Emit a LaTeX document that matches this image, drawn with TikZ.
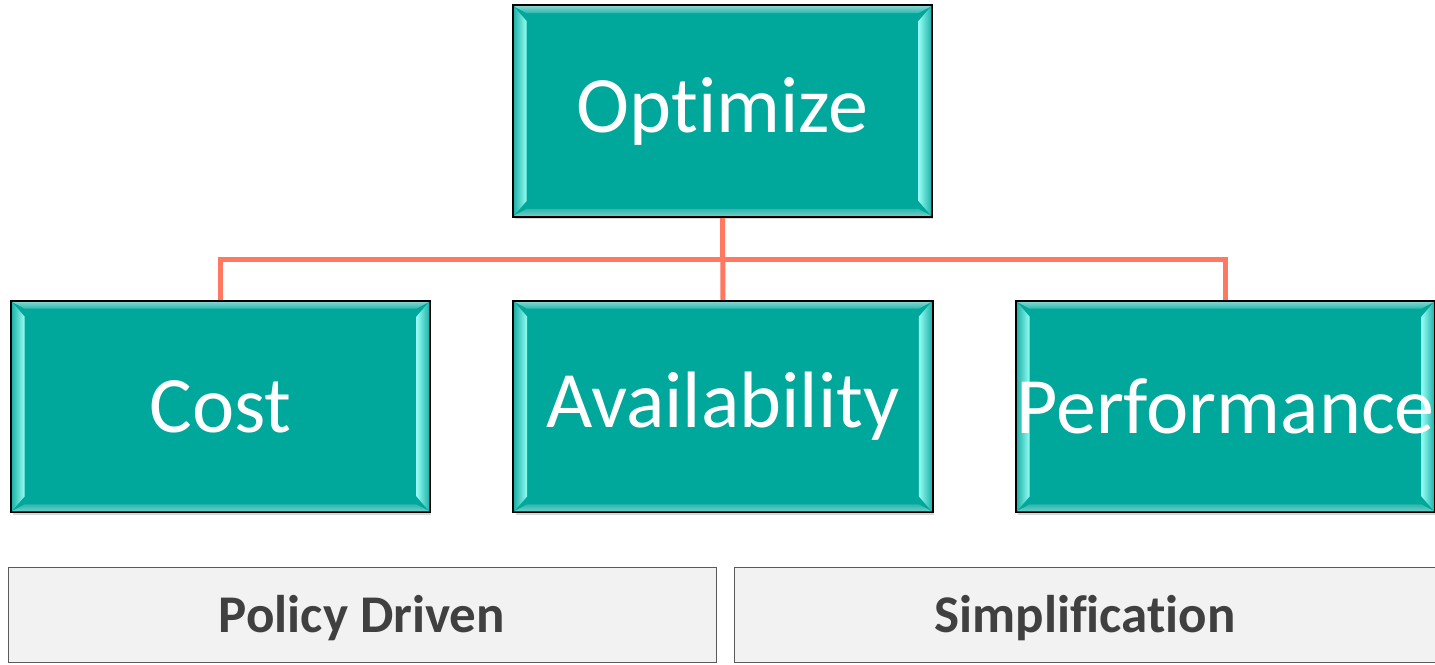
\documentclass[tikz,border=0pt]{standalone}
\usepackage{fontspec}
\setmainfont{Carlito}[Ligatures={NoCommon}]
\usetikzlibrary{calc,shadows}
\definecolor{tealfill}{RGB}{0,167,155}
\definecolor{tealband}{RGB}{45,184,174}
\definecolor{tealside}{RGB}{30,178,168}
\definecolor{bevelhi}{RGB}{150,255,245}
\definecolor{coral}{RGB}{255,120,95}
\definecolor{palegray}{RGB}{242,242,242}
\definecolor{boxgray}{RGB}{90,90,90}
\definecolor{txtgray}{RGB}{64,64,64}
\newcommand\bevelbox[1]{%
  \shade[top color=tealband!60!white, bottom color=tealband] ($(#1.north west)+(1,1)$) -- ($(#1.north east)+(-1,1)$) -- ($(#1.north east)+(-14,8)$) -- ($(#1.north west)+(14,8)$) -- cycle;
  \shade[bottom color=tealband!70!white, top color=tealband] ($(#1.south west)+(1,-1)$) -- ($(#1.south east)+(-1,-1)$) -- ($(#1.south east)+(-14,-8)$) -- ($(#1.south west)+(14,-8)$) -- cycle;
  \shade[left color=tealside, right color=bevelhi] ($(#1.north west)+(1,1)$) -- ($(#1.north west)+(14,16)$) -- ($(#1.south west)+(14,-16)$) -- ($(#1.south west)+(1,-1)$) -- cycle;
  \shade[right color=tealside, left color=bevelhi] ($(#1.north east)+(-1,1)$) -- ($(#1.north east)+(-14,16)$) -- ($(#1.south east)+(-14,-16)$) -- ($(#1.south east)+(-1,-1)$) -- cycle;
  \draw[black, line width=1.6pt] (#1.north west) rectangle (#1.south east);
  \node[text=white, font=\fontsize{80}{90}\selectfont] at ($(#1.center)+(0,0)$) {\csname lbl#1\endcsname};
}
\begin{document}
\begin{tikzpicture}[x=1pt,y=-1pt,
  tealbox/.style={draw=black, line width=1.6pt, fill=tealfill, minimum width=418pt, minimum height=210pt, inner sep=0pt,
    drop shadow={opacity=0.3, shadow xshift=1.5pt, shadow yshift=-3pt}},
  labelbox/.style={draw=boxgray, line width=1pt, fill=palegray, minimum width=708pt, minimum height=95pt, inner sep=0pt},
  labeltext/.style={text=txtgray, font=\bfseries\fontsize{53}{60}\selectfont},
  link/.style={draw=coral, line width=5pt}]
\useasboundingbox (0,0) rectangle (1435,664);
\fill[white] (0,0) rectangle (1435,664);
\def\lblopt{Optimize}\def\lblcost{Cost}\def\lblavail{Availability}\def\lblperf{Performance}
\coordinate (junction) at (723,259);
\node[tealbox] (opt) at (722.5,111) {};
\node[tealbox] (cost) at (220.5,406.5) {};
\node[tealbox] (avail) at (723,406.5) {};
\node[tealbox] (perf) at (1225.5,406.5) {};
\draw[link] (opt.south) -- (avail.north);
\draw[link] (cost.north) |- (junction) -| (perf.north);
\bevelbox{opt}
\bevelbox{cost}
\bevelbox{avail}
\bevelbox{perf}
\node[labelbox] (policy) at (362,614.5) {};
\node[labelbox, minimum width=710pt] (simp) at (1089,614.5) {};
\node[labeltext] at ($(policy.center)+(0,4)$) {Policy Driven};
\node[labeltext] at ($(simp.center)+(-4,4)$) {Simplification};
\end{tikzpicture}
\end{document}
